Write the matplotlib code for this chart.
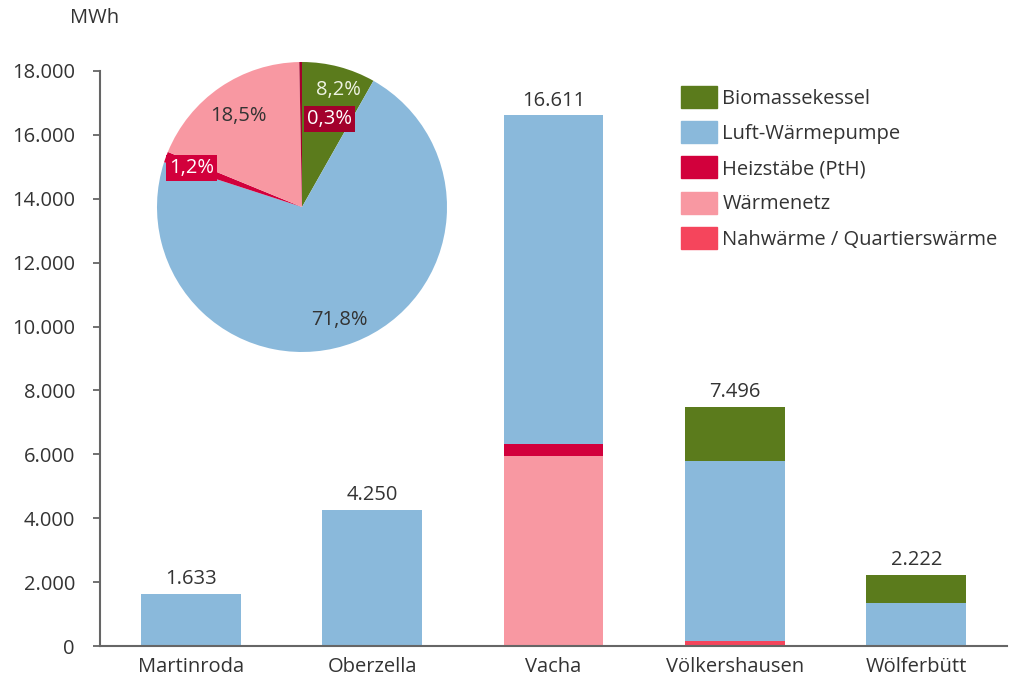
import matplotlib.pyplot as plt
import numpy as np
from matplotlib.patches import Patch
from matplotlib.ticker import FuncFormatter

plt.rcParams['font.family'] = ['Open Sans', 'DejaVu Sans']

sites = ['Martinroda', 'Oberzella', 'Vacha', 'Völkershausen', 'Wölferbütt']
totals = [1633, 4250, 16611, 7496, 2222]

# stacked from bottom to top
nahwaerme = [0, 0, 0, 170, 0]
waermenetz = [0, 0, 5960, 0, 0]
heizstaebe = [0, 0, 360, 0, 0]
luft_wp = [1633, 4250, 10291, 5630, 1336]
biomasse = [0, 0, 0, 1696, 886]

pie_labels = ['8,2%', '71,8%', '1,2%', '18,5%', '0,3%']
pie_shares = [8.2, 71.8, 1.2, 18.5, 0.3]

c_bio = '#5b7b1c'
c_luft = '#8ab9db'
c_heiz = '#d2003c'
c_netz = '#f898a2'
c_nah = '#f5455c'
txt = '#333333'
fs = 14.5

fig = plt.figure(figsize=(10.24, 6.8), dpi=100)
ax = fig.add_axes([100 / 1024, 34 / 680, 907 / 1024, 575 / 680])

x = np.arange(len(sites))
w = 0.55
bottom = np.zeros(len(sites))
for vals, col in [(nahwaerme, c_nah), (waermenetz, c_netz), (heizstaebe, c_heiz),
                  (luft_wp, c_luft), (biomasse, c_bio)]:
    ax.bar(x, vals, w, bottom=bottom, color=col, linewidth=0)
    bottom += np.array(vals)

for xi, t in zip(x, totals):
    ax.text(xi, t + 150, f'{t:,}'.replace(',', '.'), ha='center', va='bottom',
            fontsize=fs, color=txt)

ax.set_xlim(-0.5, 4.5)
ax.set_ylim(0, 18000)
ax.set_yticks(np.arange(0, 18001, 2000))
ax.yaxis.set_major_formatter(FuncFormatter(lambda v, p: f'{int(v):,}'.replace(',', '.')))
ax.set_xticks(x)
ax.set_xticklabels(sites)
ax.tick_params(axis='x', length=0, pad=8, labelsize=fs, colors=txt)
ax.tick_params(axis='y', length=5, width=1.3, color='#666666', labelsize=fs,
               labelcolor=txt, pad=13)
for s in ['top', 'right']:
    ax.spines[s].set_visible(False)
for s in ['left', 'bottom']:
    ax.spines[s].set_color('#666666')
    ax.spines[s].set_linewidth(1.5)

fig.text(95 / 1024, 1 - 18 / 680, 'MWh', ha='center', va='center', fontsize=fs, color=txt)

handles = [Patch(color=c_bio, label='Biomassekessel'),
           Patch(color=c_luft, label='Luft-Wärmepumpe'),
           Patch(color=c_heiz, label='Heizstäbe (PtH)'),
           Patch(color=c_netz, label='Wärmenetz'),
           Patch(color=c_nah, label='Nahwärme / Quartierswärme')]
ax.legend(handles=handles, loc='upper left', bbox_to_anchor=(671 / 1024, 1 - 76 / 680),
          bbox_transform=fig.transFigure, frameon=False, fontsize=fs,
          handlelength=1.8, handleheight=1.3, labelspacing=0.62, handletextpad=0.25,
          borderpad=0, labelcolor=txt)

# pie inset
r = 145
cx, cy = 302, 207
pax = fig.add_axes([(cx - r) / 1024, (680 - cy - r) / 680, 2 * r / 1024, 2 * r / 680])
pax.pie(pie_shares, colors=[c_bio, c_luft, c_heiz, c_netz, '#a3002c'],
        startangle=90, counterclock=False, radius=1,
        wedgeprops=dict(linewidth=0))
pax.set_xlim(-1, 1)
pax.set_ylim(-1, 1)
pax.set_aspect('equal')
pax.axis('off')

lab_pos = [(0.25, 0.81), (0.26, -0.78), (-0.76, 0.27), (-0.44, 0.63), (0.19, 0.61)]
lab_col = ['#eef3e2', txt, 'white', txt, 'white']
lab_box = [None, None, c_heiz, None, '#a3002c']
for lab, (px, py), col, bx in zip(pie_labels, lab_pos, lab_col, lab_box):
    kw = {}
    if bx:
        kw['bbox'] = dict(boxstyle='square,pad=0.15', facecolor=bx, edgecolor='none')
    pax.text(px, py, lab, ha='center', va='center', fontsize=fs, color=col, **kw)

fig.savefig('out.png', dpi=100)
